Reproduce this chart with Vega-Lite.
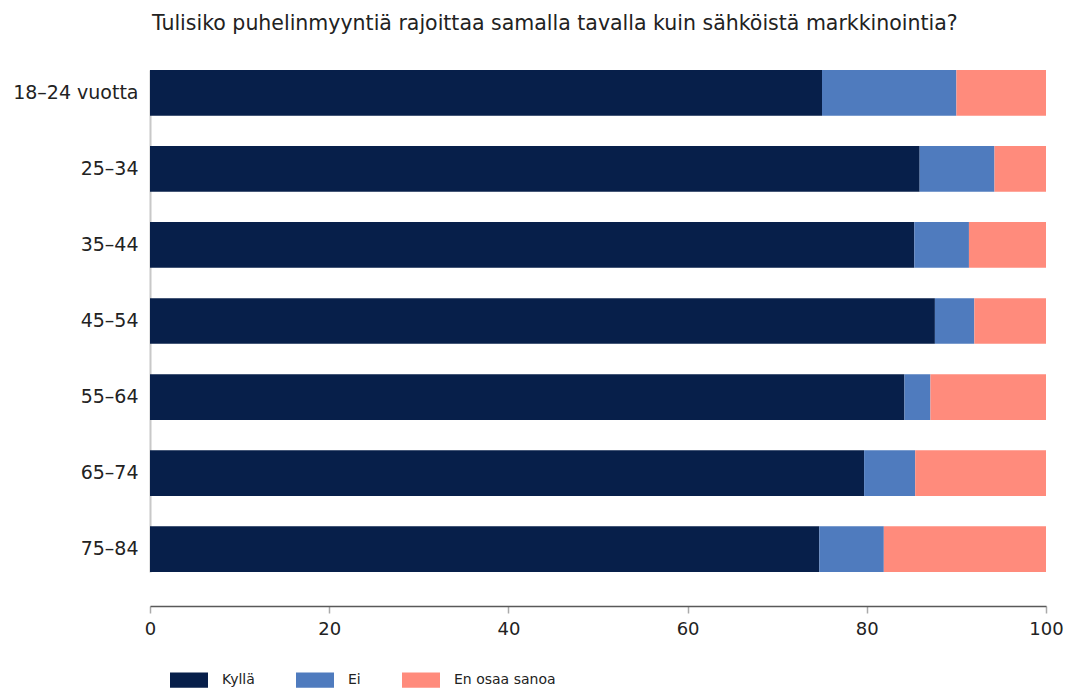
{
  "$schema": "https://vega.github.io/schema/vega-lite/v6.json",
  "autosize": {"type": "none"},
  "width": 896,
  "height": 502,
  "padding": {"left": 150, "top": 70, "right": 23, "bottom": 118},
  "background": "white",
  "title": {
    "text": "Tulisiko puhelinmyyntiä rajoittaa samalla tavalla kuin sähköistä markkinointia?",
    "anchor": "start",
    "frame": "group",
    "offset": 36,
    "dx": 2,
    "font": "DejaVu Sans",
    "fontSize": 20.5,
    "fontWeight": "normal",
    "color": "#222222"
  },
  "data": {
    "values": [
      {"ika": "18–24 vuotta", "vastaus": "Kyllä", "o": 1, "arvo": 75.0},
      {"ika": "18–24 vuotta", "vastaus": "Ei", "o": 2, "arvo": 15.0},
      {"ika": "18–24 vuotta", "vastaus": "En osaa sanoa", "o": 3, "arvo": 10.0},
      {"ika": "25–34", "vastaus": "Kyllä", "o": 1, "arvo": 85.9},
      {"ika": "25–34", "vastaus": "Ei", "o": 2, "arvo": 8.35},
      {"ika": "25–34", "vastaus": "En osaa sanoa", "o": 3, "arvo": 5.75},
      {"ika": "35–44", "vastaus": "Kyllä", "o": 1, "arvo": 85.3},
      {"ika": "35–44", "vastaus": "Ei", "o": 2, "arvo": 6.1},
      {"ika": "35–44", "vastaus": "En osaa sanoa", "o": 3, "arvo": 8.6},
      {"ika": "45–54", "vastaus": "Kyllä", "o": 1, "arvo": 87.6},
      {"ika": "45–54", "vastaus": "Ei", "o": 2, "arvo": 4.4},
      {"ika": "45–54", "vastaus": "En osaa sanoa", "o": 3, "arvo": 8.0},
      {"ika": "55–64", "vastaus": "Kyllä", "o": 1, "arvo": 84.2},
      {"ika": "55–64", "vastaus": "Ei", "o": 2, "arvo": 2.9},
      {"ika": "55–64", "vastaus": "En osaa sanoa", "o": 3, "arvo": 12.9},
      {"ika": "65–74", "vastaus": "Kyllä", "o": 1, "arvo": 79.7},
      {"ika": "65–74", "vastaus": "Ei", "o": 2, "arvo": 5.7},
      {"ika": "65–74", "vastaus": "En osaa sanoa", "o": 3, "arvo": 14.6},
      {"ika": "75–84", "vastaus": "Kyllä", "o": 1, "arvo": 74.7},
      {"ika": "75–84", "vastaus": "Ei", "o": 2, "arvo": 7.2},
      {"ika": "75–84", "vastaus": "En osaa sanoa", "o": 3, "arvo": 18.1}
    ]
  },
  "mark": {"type": "bar"},
  "encoding": {
    "y": {
      "field": "ika",
      "type": "nominal",
      "sort": null,
      "title": null,
      "scale": {"paddingInner": 0.4, "paddingOuter": 0},
      "axis": {
        "ticks": false,
        "domainColor": "#c8c8c8",
        "domainWidth": 2,
        "labelFont": "DejaVu Sans",
        "labelFontSize": 19,
        "labelColor": "#222222",
        "labelPadding": 12
      }
    },
    "x": {
      "field": "arvo",
      "type": "quantitative",
      "stack": "zero",
      "title": null,
      "scale": {"domain": [0, 100], "nice": false},
      "axis": {
        "values": [0, 20, 40, 60, 80, 100],
        "offset": 34,
        "grid": false,
        "domainColor": "#595959",
        "domainWidth": 1.5,
        "tickColor": "#aaaaaa",
        "tickSize": 7,
        "tickWidth": 1.5,
        "labelFont": "DejaVu Sans",
        "labelFontSize": 18,
        "labelColor": "#222222",
        "labelPadding": 7,
        "labelFlush": false
      }
    },
    "color": {
      "field": "vastaus",
      "type": "nominal",
      "title": null,
      "scale": {
        "domain": ["Kyllä", "Ei", "En osaa sanoa"],
        "range": ["#071f4a", "#4f7bbe", "#ff8b7c"]
      },
      "legend": {
        "orient": "none",
        "legendX": 20,
        "legendY": 591,
        "direction": "horizontal",
        "symbolType": "M-1,-0.4H1V0.4H-1Z",
        "symbolSize": 1444,
        "symbolStrokeWidth": 0,
        "symbolOpacity": 1,
        "labelFont": "DejaVu Sans",
        "labelFontSize": 14,
        "labelColor": "#222222",
        "labelOffset": 14,
        "columnPadding": 41
      }
    },
    "order": {"field": "o", "type": "quantitative"}
  },
  "config": {
    "view": {"stroke": null}
  }
}
